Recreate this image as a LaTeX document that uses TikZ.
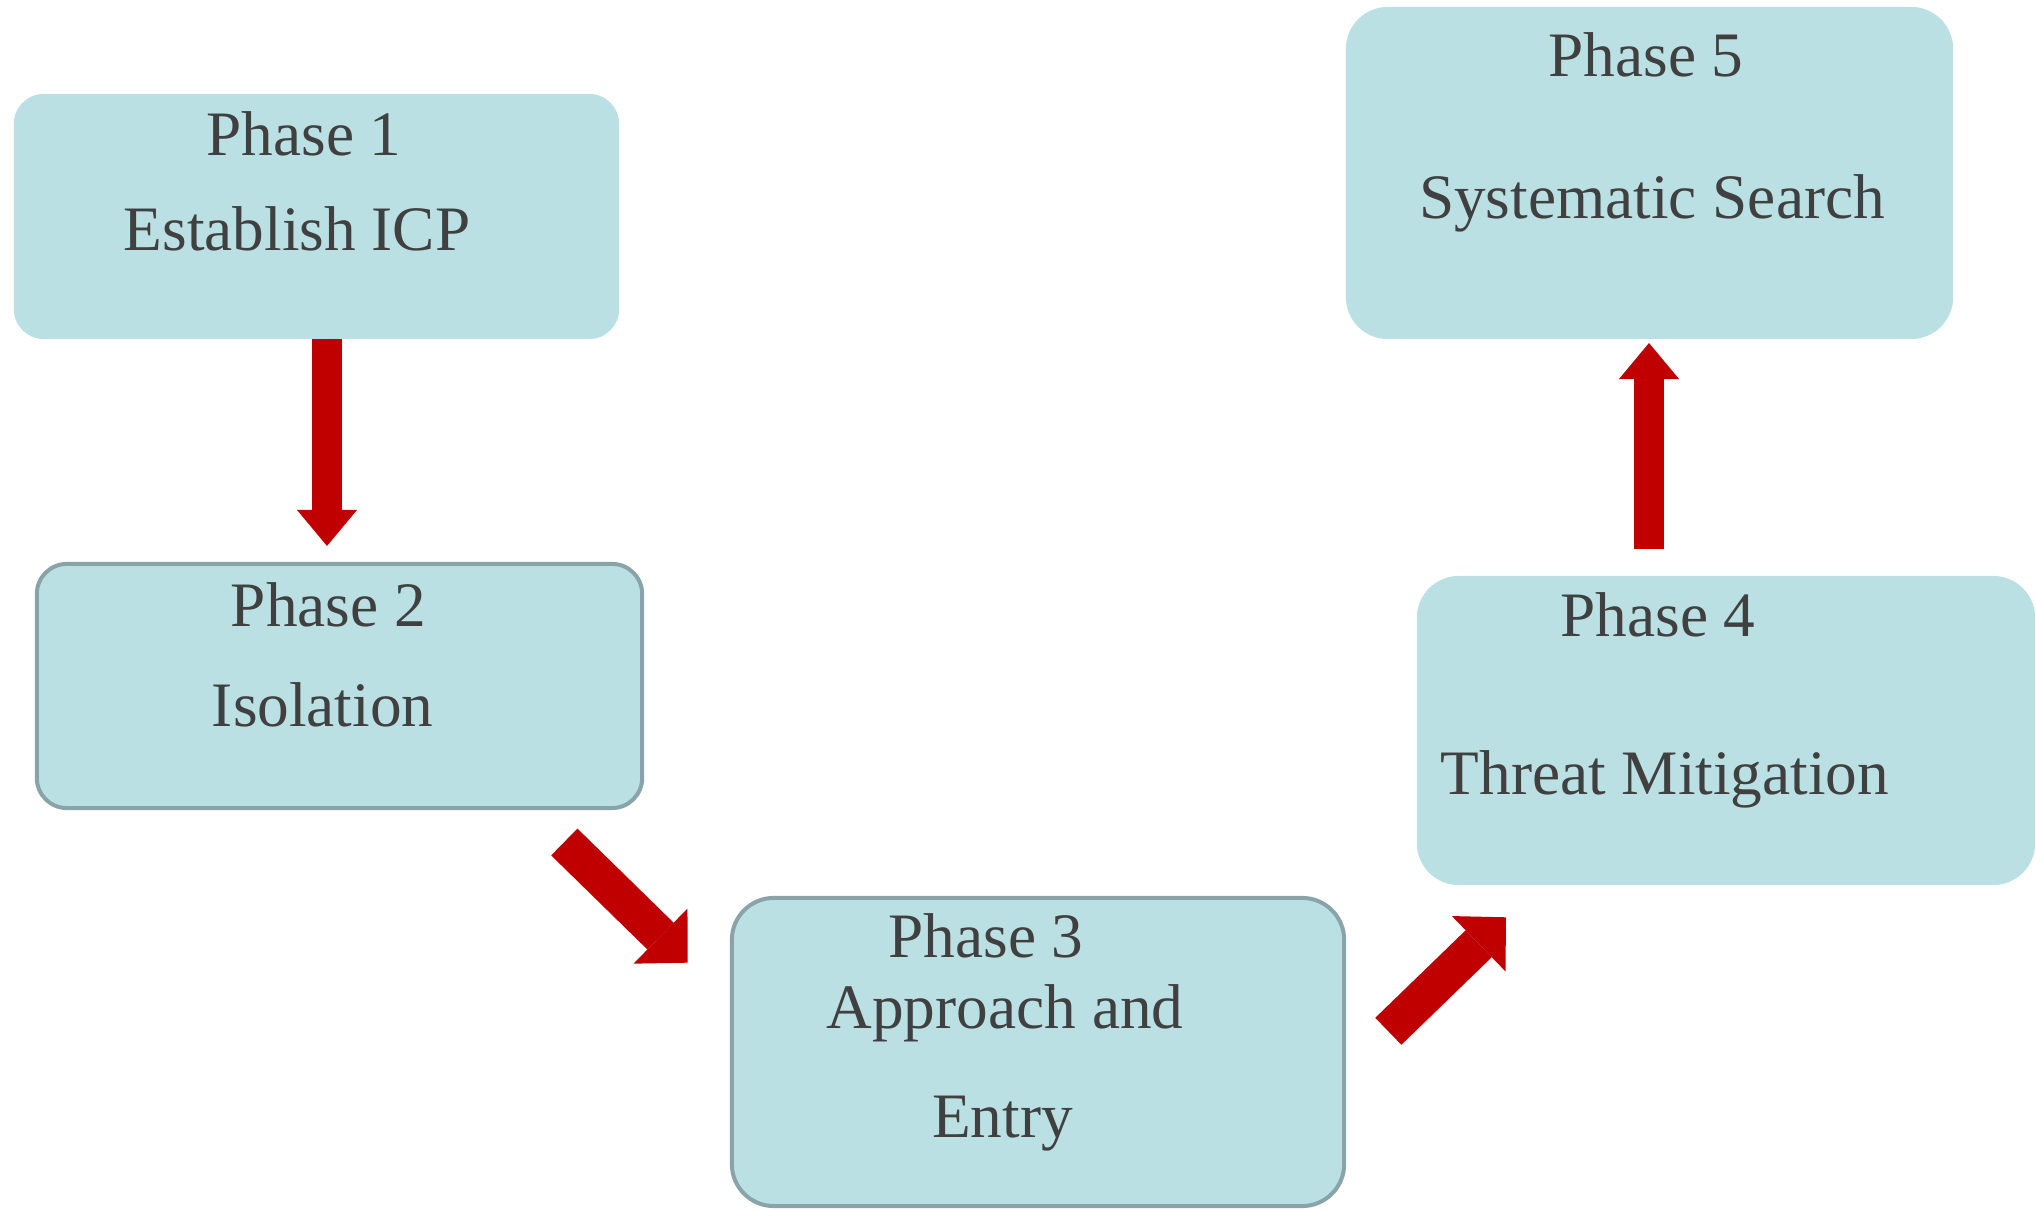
\documentclass[tikz,border=0pt]{standalone}
\usepackage{fontspec}
\setmainfont{Liberation Serif}
\usepackage{xcolor}
\definecolor{BoxFill}{RGB}{186,224,227}
\definecolor{BoxEdge}{RGB}{136,164,168}
\definecolor{ArrowRed}{RGB}{192,0,0}
\definecolor{TextGray}{RGB}{64,64,64}
\usepackage{tikz}
\usetikzlibrary{arrows.meta, positioning, calc}
\tikzset{
  % Phase box
  phasebox/.style={
    rectangle, rounded corners=0.3cm,
    draw=none, fill=BoxFill,
    inner sep=0pt
  },
  % Phase box with a gray edge
  phasebox edged/.style={phasebox, draw=BoxEdge, line width=0.04cm},
  % Box text
  ptext/.style={
    anchor=base, inner sep=0pt, text=TextGray,
    font=\fontsize{18}{22}\selectfont
  },
  % Block arrows
  blockarr/.style={
    ArrowRed, line width=0.3cm,
    -{Triangle[length=0.36cm, width=0.6cm, line width=0pt]}
  },
  blockarr wide/.style={
    ArrowRed, line width=0.375cm,
    -{Triangle[length=0.38cm, width=0.77cm, line width=0pt]}
  },
}

\begin{document}
\begin{tikzpicture}[x=0.01cm, y=-0.01cm]

  \useasboundingbox (0,0) rectangle (2036,1210);

  %% Phase boxes
  \node[phasebox, minimum width=6.05cm, minimum height=2.45cm]
    (p1) at (316.5,216.5) {};
  \node[phasebox edged, minimum width=6.05cm, minimum height=2.44cm]
    (p2) at (339.5,686) {};
  \node[phasebox edged, rounded corners=0.42cm, minimum width=6.12cm, minimum height=3.08cm]
    (p3) at (1038,1052) {};
  \node[phasebox, rounded corners=0.42cm, minimum width=6.18cm, minimum height=3.09cm]
    (p4) at (1726,730.5) {};
  \node[phasebox, rounded corners=0.42cm, minimum width=6.07cm, minimum height=3.32cm]
    (p5) at (1649.5,173) {};

  %% Box texts
  \node[ptext] (p1a) at (304,156) {Phase 1};
  \node[ptext] (p1b) at (297,251) {Establish ICP};

  \node[ptext] (p2a) at (328.5,627) {Phase 2};
  \node[ptext] (p2b) at (322.7,727) {Isolation};

  \node[ptext] (p3a) at (986,958) {Phase 3};
  \node[ptext] (p3b) at (1005,1029) {Approach and};
  \node[ptext] (p3c) at (1002.5,1138) {Entry};

  \node[ptext] (p4a) at (1658,637) {Phase 4};
  \node[ptext] (p4b) at (1665,795) {Threat Mitigation};

  \node[ptext] (p5a) at (1646,77) {Phase 5};
  \node[ptext] (p5b) at (1652,219) {Systematic Search};

  %% Arrow ends
  \coordinate (a1s) at (327,339);
  \coordinate (a1e) at (327,546);
  \coordinate (a2s) at (564.3,842);
  \coordinate (a2e) at (687.7,962.7);
  \coordinate (a3s) at (1388.3,1031.3);
  \coordinate (a3e) at (1506,917.3);
  \coordinate (a4s) at (1649,549);
  \coordinate (a4e) at (1649,343);

  %% Arrows
  \draw[blockarr] (a1s) -- (a1e);
  \draw[blockarr wide] (a2s) -- (a2e);
  \draw[blockarr wide] (a3s) -- (a3e);
  \draw[blockarr] (a4s) -- (a4e);

\end{tikzpicture}
\end{document}
